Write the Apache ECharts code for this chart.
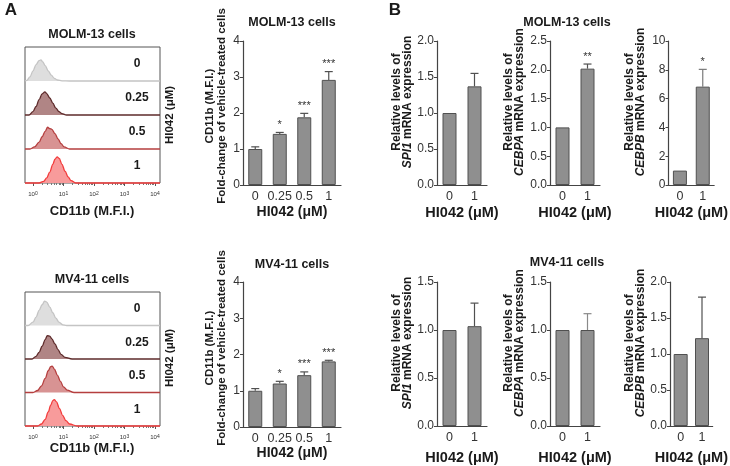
<!DOCTYPE html>
<html><head><meta charset="utf-8">
<script src="https://cdn.jsdelivr.net/npm/echarts@6/dist/echarts.min.js"></script>
<style>html,body{margin:0;padding:0;background:#fff}#c{width:730px;height:466px}</style>
</head><body><div id="c"></div>
<script>
// ---------------- DATA ----------------
// Histogram curves: [log10(CD11b MFI), relative count (fraction of row height)]
const histDoses = ['0', '0.25', '0.5', '1'];
const molmHist0 = [[-0.262,0],[-0.2,0.02],[-0.1,0.12],[0.0,0.3],[0.1,0.48],[0.2,0.6],[0.26,0.62],[0.32,0.56],[0.4,0.45],[0.5,0.3],[0.6,0.17],[0.7,0.08],[0.8,0.03],[0.95,0.005],[1.2,0],[4.164,0]];
const molmHist1 = [[-0.262,0],[-0.13,0],[0.0,0.1],[0.1,0.25],[0.2,0.45],[0.3,0.62],[0.39,0.68],[0.45,0.63],[0.55,0.5],[0.65,0.35],[0.75,0.2],[0.85,0.1],[0.95,0.04],[1.1,0],[4.164,0]];
const molmHist2 = [[-0.262,0],[-0.1,0],[0.05,0.06],[0.2,0.2],[0.3,0.36],[0.4,0.52],[0.48,0.64],[0.55,0.6],[0.62,0.58],[0.72,0.45],[0.82,0.3],[0.92,0.16],[1.02,0.06],[1.2,0],[4.164,0]];
const molmHist3 = [[-0.262,0],[0.2,0],[0.35,0.05],[0.45,0.15],[0.55,0.32],[0.65,0.55],[0.72,0.7],[0.79,0.77],[0.86,0.72],[0.95,0.55],[1.05,0.35],[1.15,0.18],[1.25,0.07],[1.4,0],[4.164,0]];
const mv4Hist0 = [[-0.262,0],[-0.16,0],[0.0,0.1],[0.1,0.25],[0.2,0.45],[0.3,0.62],[0.38,0.73],[0.45,0.7],[0.55,0.55],[0.65,0.38],[0.75,0.22],[0.85,0.1],[0.98,0.02],[1.1,0],[4.164,0]];
const mv4Hist1 = [[-0.262,0],[-0.03,0],[0.1,0.08],[0.2,0.2],[0.3,0.38],[0.4,0.58],[0.47,0.7],[0.55,0.68],[0.62,0.6],[0.72,0.45],[0.82,0.28],[0.92,0.14],[1.05,0.05],[1.28,0],[4.164,0]];
const mv4Hist2 = [[-0.262,0],[0.0,0],[0.15,0.06],[0.28,0.2],[0.4,0.42],[0.5,0.65],[0.58,0.77],[0.63,0.79],[0.7,0.7],[0.8,0.52],[0.9,0.33],[1.0,0.17],[1.12,0.07],[1.35,0],[4.164,0]];
const mv4Hist3 = [[-0.262,0],[0.15,0],[0.28,0.06],[0.4,0.2],[0.5,0.42],[0.58,0.62],[0.65,0.76],[0.7,0.79],[0.77,0.72],[0.87,0.52],[0.97,0.32],[1.08,0.16],[1.2,0.06],[1.45,0],[4.164,0]];

// Panel A bar charts
const dosesA = ['0', '0.25', '0.5', '1'];
const molmCD11b = [1.0, 1.42, 1.88, 2.92];
const molmCD11bErr = [0.06, 0.04, 0.11, 0.23];
const molmCD11bStars = ['', '*', '***', '***'];
const mv4CD11b = [1.0, 1.2, 1.43, 1.81];
const mv4CD11bErr = [0.06, 0.06, 0.09, 0.03];
const mv4CD11bStars = ['', '*', '***', '***'];

// Panel B bar charts
const dosesB = ['0', '1'];
const molmSPI1 = [1.0, 1.37];   const molmSPI1Err = [0, 0.18];  const molmSPI1Stars = ['', ''];
const molmCEBPA = [1.0, 2.02];  const molmCEBPAErr = [0, 0.08]; const molmCEBPAStars = ['', '**'];
const molmCEBPB = [1.0, 6.83];  const molmCEBPBErr = [0, 1.2];  const molmCEBPBStars = ['', '*'];
const mv4SPI1 = [1.0, 1.04];    const mv4SPI1Err = [0, 0.24];   const mv4SPI1Stars = ['', ''];
const mv4CEBPA = [1.0, 1.0];    const mv4CEBPAErr = [0, 0.17];  const mv4CEBPAStars = ['', ''];
const mv4CEBPB = [1.0, 1.22];   const mv4CEBPBErr = [0, 0.57];  const mv4CEBPBStars = ['', ''];

// ---------------- BUILD ----------------
const F = "'Liberation Sans', Arial, Helvetica, sans-serif";
const grid = [], xAxis = [], yAxis = [], series = [], title = [], graphic = [];
const mctx = document.createElement('canvas').getContext('2d');
function textW(str, size, italic) {
  mctx.font = (italic ? 'italic ' : '') + 'bold ' + size + 'px ' + F;
  return mctx.measureText(str).width;
}
function addGrid(g) { grid.push(g); return grid.length - 1; }
function addText(txt, x, y, size, bold) {
  title.push({text: txt, left: x, top: y, textAlign: 'center', textVerticalAlign: 'middle', padding: 0,
    textStyle: {fontFamily: F, fontSize: size, fontWeight: bold ? 'bold' : 'normal', color: '#1a1a1a'}});
}
// single-line vertical (bottom-to-top) text centred on (x, y); segs = [[text, italic], ...]
function addVText(segs, x, y, size) {
  let w = 0, txt = '';
  segs.forEach(s => { w += textW(s[0], size, s[1]); txt += '{' + (s[1] ? 'i' : 'n') + '|' + s[0] + '}'; });
  const base = {fontFamily: F, fontSize: size, fontWeight: 'bold', fill: '#1a1a1a', color: '#1a1a1a', align: 'left'};
  graphic.push({type: 'text', id: 'vt' + graphic.length, x: x, y: y + w / 2, rotation: Math.PI / 2,
    style: {text: txt, fontFamily: F, fontSize: size, fontWeight: 'bold', fill: '#1a1a1a',
      align: 'left', verticalAlign: 'middle',
      rich: {n: Object.assign({}, base), i: Object.assign({}, base, {fontStyle: 'italic'})}}});
}

const histColors = [
  {fill: '#dedede', line: '#c4c4c4'},
  {fill: '#b08585', line: '#5e2b2b'},
  {fill: '#d89393', line: '#b53f3f'},
  {fill: '#f89b9b', line: '#f23c3c'}
];

function histPanel(box, curves, titleY, nameY, vlabelY) {
  const rowH = box.height / 4;
  const gi = addGrid({left: box.left, top: box.top, width: box.width, height: box.height, show: true,
    borderColor: '#555', borderWidth: 1, backgroundColor: 'transparent'});
  xAxis.push({gridIndex: gi, type: 'value', show: false, min: 0, max: 1});
  yAxis.push({gridIndex: gi, type: 'value', show: false, min: 0, max: 1});
  curves.forEach((c, r) => {
    const g = addGrid({left: box.left, top: box.top + r * rowH, width: box.width, height: rowH});
    const xi = xAxis.push({gridIndex: g, type: 'value', show: false, min: -0.262, max: 4.164}) - 1;
    const yi = yAxis.push({gridIndex: g, type: 'value', show: false, min: 0, max: 1}) - 1;
    series.push({type: 'line', xAxisIndex: xi, yAxisIndex: yi, data: c, smooth: 0.35, smoothMonotone: 'x',
      symbol: 'none', clip: false, silent: true, z: 3,
      lineStyle: {color: histColors[r].line, width: 1.3},
      areaStyle: {color: histColors[r].fill, opacity: 1}});
    addText(histDoses[r], 137, box.top + r * rowH + rowH / 2, 12, true);
  });
  const ag = addGrid({left: 33, top: box.top, width: 122, height: box.height});
  xAxis.push({gridIndex: ag, type: 'log', logBase: 10, min: 1, max: 10000, position: 'bottom',
    axisLine: {show: false}, splitLine: {show: false},
    axisTick: {show: true, length: 3, lineStyle: {color: '#555'}},
    minorTick: {show: true, splitNumber: 9, length: 2, lineStyle: {color: '#777'}},
    axisLabel: {margin: 8, fontFamily: F, fontSize: 6, color: '#333',
      formatter: v => '10{s|' + Math.round(Math.log10(v)) + '}',
      rich: {s: {fontSize: 5, verticalAlign: 'top', fontFamily: F, color: '#333'}}}});
  yAxis.push({gridIndex: ag, type: 'value', show: false});
  addText(box.name, 92, titleY, 12.5, true);
  addText('CD11b (M.F.I.)', 92, nameY, 13, true);
  addVText([['HI042 (μM)', false]], 170, vlabelY, 11.5);
}

function barPanel(o) {
  const g = addGrid({left: o.left, top: o.top, width: o.width, height: o.height});
  const xi = xAxis.push({gridIndex: g, type: 'category', data: o.cats,
    axisLine: {lineStyle: {color: '#444', width: 1.2}},
    axisTick: {alignWithLabel: true, length: 3, lineStyle: {color: '#444'}},
    axisLabel: {interval: 0, margin: 5, fontFamily: F, fontSize: o.xLabelSize || 12.5, color: '#333'},
    name: 'HI042 (μM)', nameLocation: 'middle', nameGap: o.xNameGap,
    nameTextStyle: {fontFamily: F, fontSize: o.xNameSize, fontWeight: 'bold', color: '#1a1a1a'}}) - 1;
  const yi = yAxis.push({gridIndex: g, type: 'value', min: 0, max: o.max, interval: o.interval,
    axisLine: {show: true, lineStyle: {color: '#444', width: 1.2}},
    axisTick: {show: true, length: 3, lineStyle: {color: '#444'}},
    splitLine: {show: false},
    axisLabel: {margin: 3, fontFamily: F, fontSize: 12, color: '#333', formatter: o.fmt}}) - 1;
  // two-line y-axis title, each line centred on the same vertical position
  addVText(o.yName[0], o.nameX - o.nameSep / 2, o.nameY, o.yNameSize);
  addVText(o.yName[1], o.nameX + o.nameSep / 2, o.nameY, o.yNameSize);
  series.push({type: 'bar', xAxisIndex: xi, yAxisIndex: yi, data: o.vals, barWidth: 14, silent: true,
    itemStyle: {color: '#8f8f8f', borderColor: '#505050', borderWidth: 1}});
  const errs = o.errs, stars = o.stars, errColor = o.errColor || '#505050';
  series.push({type: 'custom', xAxisIndex: xi, yAxisIndex: yi, clip: false, silent: true, z: 5,
    data: o.vals.map((v, i) => [i, v, v + errs[i]]),
    renderItem: function (params, api) {
      const i = params.dataIndex;
      const base = api.coord([api.value(0), api.value(1)]);
      const top = api.coord([api.value(0), api.value(2)]);
      const ch = [];
      if (errs[i] > 0) {
        ch.push({type: 'line', shape: {x1: base[0], y1: base[1], x2: top[0], y2: top[1]}, style: {stroke: errColor, lineWidth: 1.2}});
        ch.push({type: 'line', shape: {x1: top[0] - 4, y1: top[1], x2: top[0] + 4, y2: top[1]}, style: {stroke: errColor, lineWidth: 1.2}});
      }
      if (stars[i]) {
        ch.push({type: 'text', x: top[0], y: top[1] - 2,
          style: {text: stars[i], fontFamily: F, fontSize: 11, fill: '#333', align: 'center', verticalAlign: 'bottom'}});
      }
      return {type: 'group', children: ch};
    }});
}

// Panel letters
addText('A', 11, 10, 17, true);
addText('B', 395, 10, 17, true);

// Panel A histograms
histPanel({left: 25, top: 47, width: 135, height: 136, name: 'MOLM-13 cells'},
  [molmHist0, molmHist1, molmHist2, molmHist3], 35, 211, 115);
histPanel({left: 25, top: 292, width: 135, height: 134, name: 'MV4-11 cells'},
  [mv4Hist0, mv4Hist1, mv4Hist2, mv4Hist3], 280, 448, 358);

// Panel A bar charts
const yNameA = [[['CD11b (M.F.I.)', false]], [['Fold-change of vehicle-treated cells', false]]];
barPanel({left: 243, top: 41, width: 98, height: 144, cats: dosesA, vals: molmCD11b, errs: molmCD11bErr, stars: molmCD11bStars,
  max: 4, interval: 1, fmt: v => String(v), yName: yNameA, nameX: 216, nameY: 106, nameSep: 12, yNameSize: 11.5,
  xNameGap: 20, xNameSize: 14});
barPanel({left: 243, top: 282, width: 98, height: 145, cats: dosesA, vals: mv4CD11b, errs: mv4CD11bErr, stars: mv4CD11bStars,
  max: 4, interval: 1, fmt: v => String(v), yName: yNameA, nameX: 216, nameY: 348, nameSep: 12, yNameSize: 11.5,
  xNameGap: 16, xNameSize: 14});
addText('MOLM-13 cells', 292, 23, 12.5, true);
addText('MV4-11 cells', 292, 265, 12.5, true);

// Panel B bar charts
const f1 = v => v.toFixed(1);
const f0 = v => String(v);
const nm = g => [[['Relative levels of', false]], [[g, true], [' mRNA expression', false]]];
const bCommon = {cats: dosesB, yNameSize: 12, nameSep: 11, xNameSize: 14.5, xLabelSize: 12.5};
barPanel(Object.assign({}, bCommon, {left: 437, top: 41, width: 50, height: 144, vals: molmSPI1, errs: molmSPI1Err, stars: molmSPI1Stars,
  max: 2, interval: 0.5, fmt: f1, yName: nm('SPI1'), nameX: 402, nameY: 102, xNameGap: 20}));
barPanel(Object.assign({}, bCommon, {left: 550, top: 41, width: 50, height: 144, vals: molmCEBPA, errs: molmCEBPAErr, stars: molmCEBPAStars,
  max: 2.5, interval: 0.5, fmt: f1, yName: nm('CEBPA'), nameX: 514, nameY: 102, xNameGap: 20}));
barPanel(Object.assign({}, bCommon, {left: 668.5, top: 41, width: 50, height: 144, vals: molmCEBPB, errs: molmCEBPBErr, stars: molmCEBPBStars,
  max: 10, interval: 2, fmt: f0, yName: nm('CEBPB'), nameX: 635, nameY: 102, xNameGap: 20, errColor: '#7a7a7a'}));
barPanel(Object.assign({}, bCommon, {left: 437, top: 282, width: 50, height: 145, vals: mv4SPI1, errs: mv4SPI1Err, stars: mv4SPI1Stars,
  max: 1.5, interval: 0.5, fmt: f1, yName: nm('SPI1'), nameX: 402, nameY: 343, xNameGap: 24}));
barPanel(Object.assign({}, bCommon, {left: 550, top: 282, width: 50, height: 145, vals: mv4CEBPA, errs: mv4CEBPAErr, stars: mv4CEBPAStars,
  max: 1.5, interval: 0.5, fmt: f1, yName: nm('CEBPA'), nameX: 514, nameY: 343, xNameGap: 24, errColor: '#8a8a8a'}));
barPanel(Object.assign({}, bCommon, {left: 670, top: 282, width: 50, height: 145, vals: mv4CEBPB, errs: mv4CEBPBErr, stars: mv4CEBPBStars,
  max: 2, interval: 0.5, fmt: f1, yName: nm('CEBPB'), nameX: 635, nameY: 343, xNameGap: 24}));
addText('MOLM-13 cells', 567, 23, 12.5, true);
addText('MV4-11 cells', 567, 263, 12.5, true);

const chart = echarts.init(document.getElementById('c'), null, {renderer: 'canvas'});
chart.setOption({animation: false, backgroundColor: '#fff', textStyle: {fontFamily: F},
  title, grid, xAxis, yAxis, series, graphic});
</script></body></html>
